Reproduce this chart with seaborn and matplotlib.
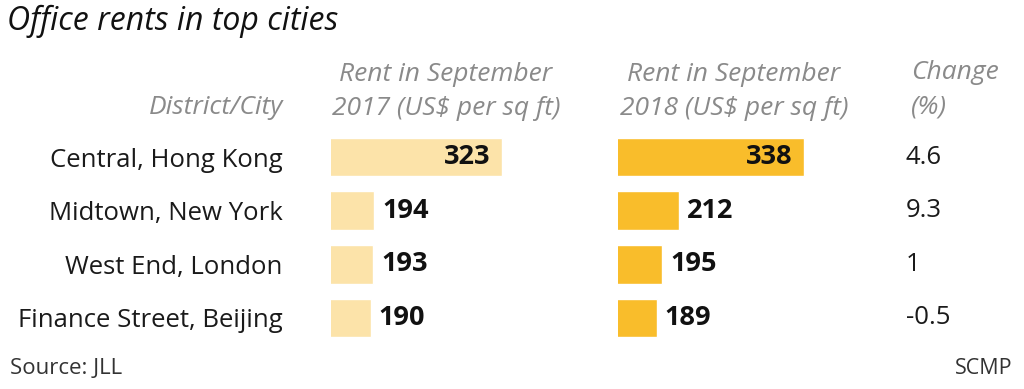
import matplotlib
matplotlib.use("Agg")
import matplotlib.pyplot as plt
import matplotlib.transforms as mtransforms
import seaborn as sns
import pandas as pd

cities = ["Central, Hong Kong", "Midtown, New York", "West End, London", "Finance Street, Beijing"]
rent_2017 = [323, 194, 193, 190]
rent_2018 = [338, 212, 195, 189]
change = ["4.6", "9.3", "1", "-0.5"]

title = "Office rents in top cities"
head_city = "District/City"
head_2017 = "Rent in September\n2017 (US$ per sq ft)"
head_2018 = "Rent in September\n2018 (US$ per sq ft)"
head_change = "Change\n(%)"
source = "Source: JLL"
credit = "SCMP"

sns.set_theme(style="white")
plt.rcParams["font.family"] = ["Open Sans", "DejaVu Sans"]

W, H = 1024, 389
fig = plt.figure(figsize=(W / 100, H / 100), dpi=100)
fig.patch.set_facecolor("white")

def fx(px):
    return px / W

def fy(py):
    return 1 - py / H

df = pd.DataFrame({"city": cities, "r2017": rent_2017, "r2018": rent_2018})

ax_top, ax_bot = 130.2, 344.8
ax_bottom = fy(ax_bot)
ax_height = (ax_bot - ax_top) / H
xmin, xmax = 150, 420
ax_w = (xmax - xmin) * 0.988 / W

ax1 = fig.add_axes([fx(331), ax_bottom, ax_w, ax_height])
ax2 = fig.add_axes([fx(618), ax_bottom, ax_w, ax_height])

light = "#FCE3A9"
dark = "#F9BD2B"
text_font = 18.5
head_font = 19
val_font = 19.5

for ax, col, color, vals in [(ax1, "r2017", light, rent_2017), (ax2, "r2018", dark, rent_2018)]:
    sns.barplot(data=df, x=col, y="city", ax=ax, color=color, width=0.72,
                saturation=1, orient="h")
    ax.set_xlim(xmin, xmax)
    ax.set_xlabel("")
    ax.set_ylabel("")
    ax.set_xticks([])
    for s in ax.spines.values():
        s.set_visible(False)
    ax.set_facecolor("none")
    vmax = max(vals)
    for i, v in enumerate(vals):
        if v == vmax:
            ax.annotate(str(v), xy=(v, i), xytext=(-8, 0), textcoords="offset points",
                        ha="right", va="center", fontsize=val_font, fontweight="bold",
                        color="#111111")
        else:
            ax.annotate(str(v), xy=(v, i), xytext=(5.5, 0), textcoords="offset points",
                        ha="left", va="center", fontsize=val_font, fontweight="bold",
                        color="#111111")

ax1.tick_params(axis="y", length=0, pad=35, labelsize=text_font, labelcolor="#1a1a1a")
ax2.set_yticks([])

trans = mtransforms.blended_transform_factory(fig.transFigure, ax2.transData)
for i, c in enumerate(change):
    fig.text(fx(906), i, c, transform=trans, ha="left", va="center",
             fontsize=text_font, color="#1a1a1a")

gray = "#8a8a8a"
fig.text(fx(7), fy(21), title, ha="left", va="center", fontsize=23,
         style="italic", color="#111111")
fig.text(fx(283), fy(107), head_city, ha="right", va="center", fontsize=head_font,
         style="italic", color=gray)
fig.text(fx(446), fy(91.5), head_2017, ha="center", va="center", fontsize=head_font,
         style="italic", color=gray, linespacing=1.52)
fig.text(fx(734), fy(91.5), head_2018, ha="center", va="center", fontsize=head_font,
         style="italic", color=gray, linespacing=1.52)
fig.text(fx(911), fy(89.5), head_change, ha="left", va="center", fontsize=head_font,
         style="italic", color=gray, linespacing=1.52)
fig.text(fx(10), fy(368), source, ha="left", va="center", fontsize=16, color="#333333")
fig.text(fx(1012), fy(368), credit, ha="right", va="center", fontsize=15.5, color="#333333")

fig.savefig("out.png", dpi=100, facecolor="white")
